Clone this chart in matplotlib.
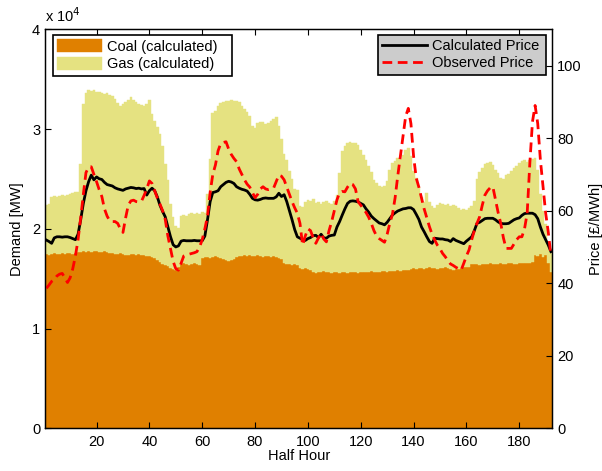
import numpy as np
import matplotlib
matplotlib.use('Agg')
import matplotlib.pyplot as plt

plt.rcParams['font.family'] = ['Liberation Sans', 'DejaVu Sans']
plt.rcParams['font.size'] = 10.5

# half hour index
half_hour = np.arange(1, 193)

# total demand met by coal + gas [MW]
total_mw = [
    22400, 22500, 23200, 23300, 23200, 23300, 23400, 23300, 23400, 23500, 23600, 23700,
    23700, 26500, 32500, 33600, 33900, 33800, 33900, 33700, 33700, 33600, 33500, 33600,
    33400, 33300, 33000, 32600, 32300, 32500, 32700, 32900, 33200, 32900, 32700, 32500,
    32400, 32300, 32500, 32900, 31500, 30800, 30200, 29500, 28300, 26500, 24900, 22500,
    21200, 20300, 20100, 21300, 21400, 21300, 21500, 21600, 21500, 21600, 21500, 21700,
    21600, 23500, 27000, 31600, 31800, 32300, 32600, 32700, 32800, 32800, 32900, 32800,
    32800, 32700, 32300, 32000, 31700, 31300, 30300, 30100, 30600, 30700, 30700, 30500,
    30600, 30800, 31000, 31200, 30300, 29000, 27500, 26900, 25800, 25000, 24000, 23900,
    22300, 22200, 22700, 22900, 22800, 23000, 22600, 22700, 22500, 22700, 22800, 22600,
    22500, 22800, 23400, 25600, 27800, 28300, 28600, 28700, 28600, 28600, 28400, 27900,
    27400, 26900, 26300, 25700, 24900, 24600, 24300, 24200, 24300, 24800, 25900, 26600,
    26800, 27100, 27000, 27400, 27900, 28100, 27300, 25800, 25100, 24200, 23200, 22700,
    23600, 22700, 22300, 22100, 22400, 22600, 22500, 22400, 22500, 22300, 22400, 22300,
    22100, 21900, 22000, 21900, 22100, 22300, 22800, 25000, 25700, 26100, 26500, 26600,
    26700, 26400, 25900, 25600, 25100, 25000, 25400, 25500, 25800, 26100, 26300, 26600,
    26800, 26900, 26700, 26900, 27000, 27100, 25900, 23500, 21800, 20500, 18500, 17600,
]

# coal generation [MW]
coal_mw = [
    17500, 17400, 17500, 17600, 17500, 17500, 17600, 17500, 17600, 17600, 17500, 17600,
    17700, 17700, 17800, 17700, 17800, 17700, 17800, 17800, 17700, 17700, 17800, 17700,
    17600, 17600, 17500, 17500, 17600, 17500, 17400, 17400, 17500, 17500, 17400, 17500,
    17400, 17400, 17300, 17300, 17200, 17100, 16900, 16700, 16500, 16400, 16300, 16100,
    16000, 15900, 16200, 16500, 16600, 16500, 16400, 16500, 16600, 16500, 16400, 17100,
    17200, 17200, 17100, 17200, 17300, 17200, 17100, 17000, 16900, 16800, 16900, 17000,
    17200, 17300, 17300, 17400, 17300, 17400, 17300, 17300, 17400, 17300, 17200, 17300,
    17300, 17200, 17300, 17200, 17100, 17000, 16600, 16500, 16500, 16400, 16500, 16400,
    16100, 16000, 16100, 16000, 15900, 15700, 15600, 15700, 15700, 15800, 15700, 15700,
    15600, 15700, 15700, 15600, 15700, 15700, 15600, 15700, 15700, 15700, 15600, 15700,
    15700, 15700, 15700, 15800, 15700, 15700, 15700, 15800, 15800, 15700, 15800, 15800,
    15800, 15900, 15800, 15900, 15900, 15900, 16000, 16100, 16000, 16100, 16100, 16000,
    16100, 16200, 16100, 16100, 16000, 16100, 16100, 16200, 16100, 16000, 15900, 16000,
    16000, 16100, 16200, 16200, 16200, 16500, 16500, 16500, 16400, 16500, 16500, 16500,
    16600, 16500, 16500, 16500, 16600, 16500, 16500, 16600, 16600, 16500, 16500, 16600,
    16600, 16600, 16600, 16600, 16700, 17400, 17300, 17500, 17200, 17400, 16600, 15700,
]

# calculated price [GBP/MWh]
calc_price = [
    51.9, 51.5, 51.0, 52.5, 52.8, 52.8, 52.7, 52.8, 52.8, 52.6, 52.3, 52.0,
    53.5, 57.5, 62.0, 65.5, 68.0, 69.8, 68.5, 69.3, 68.8, 68.6, 67.8, 67.2,
    67.0, 66.8, 66.3, 66.0, 65.8, 65.6, 66.0, 66.2, 66.4, 66.3, 66.1, 66.2,
    66.0, 66.1, 64.3, 65.5, 66.2, 65.5, 63.8, 61.5, 59.8, 58.3, 55.5, 52.8,
    50.6, 50.0, 50.3, 51.6, 51.8, 51.7, 51.7, 51.7, 51.8, 51.7, 51.7, 51.7,
    53.0, 57.5, 62.5, 65.0, 65.2, 65.5, 66.6, 67.2, 67.8, 68.1, 67.9, 67.5,
    66.6, 66.2, 65.9, 65.7, 65.4, 64.5, 63.4, 63.0, 62.9, 63.1, 63.4, 63.5,
    63.4, 63.4, 63.4, 63.8, 64.8, 63.9, 64.4, 62.5, 60.0, 57.5, 54.8, 52.8,
    52.4, 52.0, 51.8, 52.3, 52.6, 53.1, 53.2, 52.6, 53.5, 52.5, 52.4, 53.0,
    53.2, 53.3, 55.5, 57.0, 58.8, 60.5, 62.0, 62.6, 62.7, 62.6, 62.4, 62.0,
    61.6, 60.5, 59.6, 58.5, 57.8, 57.2, 56.6, 56.4, 56.1, 56.8, 57.8, 58.8,
    59.4, 59.9, 60.2, 60.5, 60.6, 60.8, 60.8, 60.3, 59.0, 57.6, 55.5, 54.2,
    52.8, 51.5, 51.0, 52.4, 52.3, 52.2, 52.2, 52.0, 51.9, 51.5, 52.3, 51.8,
    51.5, 51.2, 50.9, 51.6, 52.2, 52.8, 54.5, 56.5, 56.8, 57.3, 57.8, 57.9,
    57.9, 57.9, 57.5, 56.9, 56.5, 56.4, 56.4, 56.5, 57.0, 57.5, 57.8, 58.0,
    58.7, 59.2, 59.3, 59.3, 59.3, 58.9, 57.8, 55.5, 53.5, 52.0, 50.5, 48.7,
]

# observed price [GBP/MWh]
obs_price = [
    38.6, 39.5, 40.5, 41.0, 42.0, 42.5, 42.7, 41.5, 40.2, 41.5, 44.0, 47.5,
    52.0, 58.0, 64.5, 70.5, 72.0, 72.1, 70.0, 68.0, 65.8, 63.9, 60.5, 58.5,
    57.2, 57.0, 57.0, 56.5, 55.0, 54.0, 58.0, 61.5, 62.7, 62.9, 62.5, 62.4,
    62.6, 64.2, 66.0, 68.2, 67.5, 65.5, 63.5, 61.8, 60.0, 57.6, 53.0, 49.5,
    46.0, 44.0, 43.6, 45.5, 47.5, 47.8, 48.0, 48.2, 48.4, 48.7, 50.0, 52.0,
    55.0, 58.5, 65.0, 70.0, 72.6, 76.5, 78.5, 78.8, 79.0, 77.0, 75.5, 74.4,
    73.5, 71.5, 70.0, 68.5, 67.3, 66.5, 65.0, 63.6, 64.5, 66.0, 66.6, 66.0,
    65.8, 66.0, 66.2, 68.0, 69.8, 69.5, 68.5, 66.5, 64.5, 62.5, 60.8, 59.3,
    56.5, 50.5, 53.0, 55.0, 54.5, 52.5, 51.0, 52.5, 53.8, 52.2, 51.4, 54.5,
    57.0, 60.0, 63.0, 65.0, 65.3, 65.2, 66.5, 67.5, 67.2, 66.0, 62.5, 61.5,
    60.5, 59.5, 58.2, 56.5, 54.5, 53.0, 52.3, 51.8, 51.3, 53.5, 56.5, 59.0,
    63.5, 69.5, 75.0, 80.5, 86.0, 88.2, 84.0, 75.0, 69.0, 66.5, 63.5, 60.5,
    58.0, 55.6, 53.5, 51.9, 50.5, 49.5, 48.2, 47.3, 46.2, 45.3, 44.9, 44.4,
    44.0, 43.6, 45.5, 47.5, 49.2, 52.0, 54.5, 56.5, 58.3, 61.5, 64.3, 65.5,
    66.3, 66.6, 63.0, 59.5, 56.5, 52.5, 49.6, 49.6, 49.6, 50.8, 52.0, 52.8,
    52.8, 55.0, 59.3, 73.0, 84.5, 89.0, 84.0, 74.0, 66.6, 59.3, 54.0, 47.5,
]

coal = np.array(coal_mw)
gas = np.array(total_mw) - coal

coal_col = '#e08000'
gas_col = '#e5e281'

fig = plt.figure(figsize=(6.02, 4.71), dpi=100)
ax = fig.add_axes([0.0748, 0.0906, 0.8426, 0.8472])

ax.bar(half_hour, coal, width=1.0, color=coal_col, edgecolor=coal_col,
       linewidth=0.3, label='Coal (calculated)')
ax.bar(half_hour, gas, width=1.0, bottom=coal, color=gas_col, edgecolor=gas_col,
       linewidth=0.3, label='Gas (calculated)')

ax.set_xlim(0.5, 192.5)
ax.set_ylim(0, 40000)
ax.set_xticks(np.arange(20, 181, 20))
ax.set_yticks(np.arange(0, 40001, 10000))
ax.set_yticklabels(['0', '1', '2', '3', '4'])
ax.tick_params(direction='in', length=4, width=0.8, top=True, labelsize=10.5)
ax.tick_params(axis='x', pad=5)
ax.set_xlabel('Half Hour', labelpad=0)
ax.set_ylabel('Demand [MW]', labelpad=6)
ax.text(0.0, 1.012, r'x 10$^4$', transform=ax.transAxes, fontsize=10.5,
        ha='left', va='bottom')

# legend boxes sized like the MATLAB ones
leg1 = ax.legend(loc='upper left', bbox_to_anchor=(0.0152, 0.883, 0.3534, 0.103),
                 mode='expand', fontsize=10.5, fancybox=False, edgecolor='black',
                 framealpha=1, borderaxespad=0, handlelength=3.1, handleheight=1.0,
                 handletextpad=0.3, labelspacing=0.2, borderpad=0.3)
leg1.get_frame().set_linewidth(1.2)

ax2 = ax.twinx()
ax2.set_ylim(0, 110)
ax2.set_yticks(np.arange(0, 101, 20))
ax2.tick_params(direction='in', length=4, width=0.8, labelsize=10.5)
ax2.set_ylabel('Price [£/MWh]', labelpad=5)

ax2.plot(half_hour, calc_price, color='black', lw=2.0, label='Calculated Price')
ax2.plot(half_hour, obs_price, color='red', lw=2.0, ls=(0, (3.5, 2.0)),
         label='Observed Price')

leg2 = ax2.legend(loc='upper right', bbox_to_anchor=(0.6558, 0.883, 0.3318, 0.103),
                  mode='expand', fontsize=10.5, fancybox=False, edgecolor='black',
                  facecolor='#cccccc', framealpha=1, borderaxespad=0,
                  handlelength=3.1, handletextpad=0.3, labelspacing=0.2,
                  borderpad=0.3)
leg2.get_frame().set_linewidth(1.2)

for sp in ax.spines.values():
    sp.set_linewidth(0.9)
for sp in ax2.spines.values():
    sp.set_linewidth(0.9)

fig.savefig('out.png', dpi=100)
